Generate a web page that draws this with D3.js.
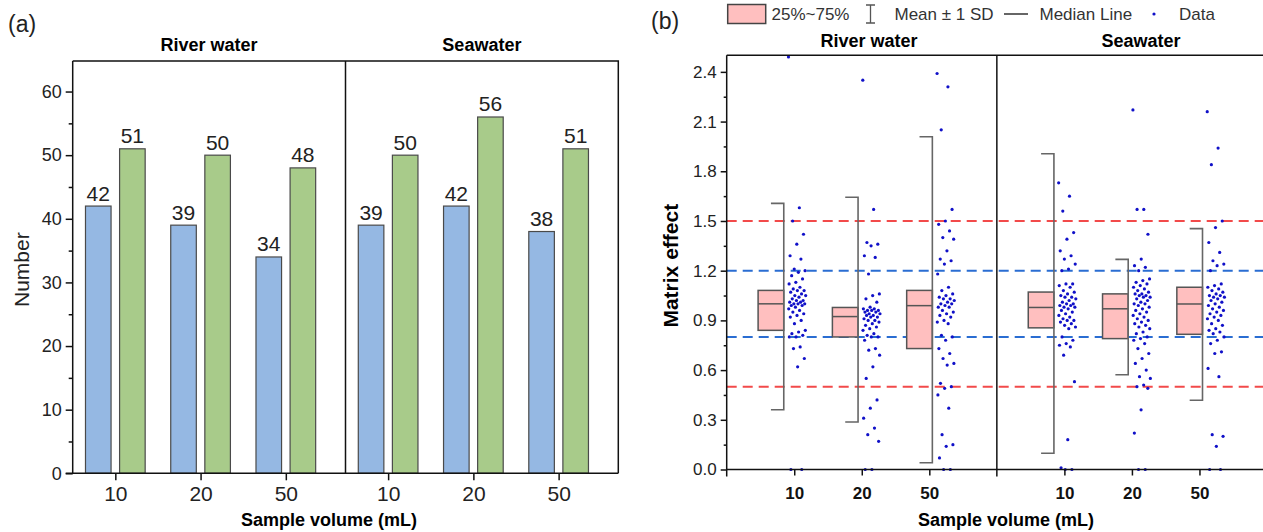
<!DOCTYPE html>
<html>
<head>
<meta charset="utf-8">
<script src="https://cdn.jsdelivr.net/npm/d3@7"></script>
<style>
  body { margin: 0; background: #fff; }
  text { font-family: "Liberation Sans", Arial, sans-serif; }
</style>
</head>
<body>
<svg id="fig" width="1263" height="532"></svg>
<script>
// ---- donnees ----
const volumes = ["10", "20", "50"];
const matrices = ["River water", "Seawater"];
// positions des categories sur l'axe (a) et (b)
const posA = [1, 2, 3, 4.2, 5.2, 6.2];
const posB = [1, 2, 3, 5, 6, 7];

// (a) nombres
const nbBleu = [42, 39, 34, 39, 42, 38];
const nbVert = [51, 50, 48, 50, 56, 51];

// (b) statistiques des boites
const q1 = [0.84, 0.80, 0.73, 0.855, 0.79, 0.816];
const mediane = [1.0, 0.923, 0.989, 0.978, 0.97, 0.999];
const q3 = [1.081, 0.978, 1.081, 1.071, 1.06, 1.10];
const moyPlusSD = [1.606, 1.643, 2.008, 1.906, 1.268, 1.454];
const moyMoinsSD = [0.361, 0.287, 0.041, 0.098, 0.572, 0.418];

// (b) points
const ptsRiv10 = [2.49, 1.58, 1.50, 1.42, 1.36, 1.29, 1.27, 1.21, 1.20, 1.19, 1.17, 1.15, 1.13, 1.12, 1.10, 1.09, 1.08, 1.08,
  1.07, 1.06, 1.05, 1.05, 1.04, 1.03, 1.02, 1.02, 1.01, 1.01, 1.00, 1.00, 1.00, 0.99, 0.99, 0.98, 0.97, 0.96, 0.95, 0.94,
  0.93, 0.92, 0.90, 0.88, 0.84, 0.83, 0.82, 0.81, 0.80, 0.80, 0.74, 0.73, 0.67, 0.62, 0.0, 0.0];
const ptsRiv20 = [2.35, 1.57, 1.37, 1.36, 1.35, 1.29, 1.28, 1.18, 1.06, 1.05, 1.03, 1.01, 0.98, 0.97, 0.97, 0.96, 0.96, 0.96,
  0.95, 0.95, 0.94, 0.94, 0.93, 0.93, 0.92, 0.92, 0.91, 0.90, 0.90, 0.89, 0.88, 0.87, 0.86, 0.85, 0.84, 0.82, 0.81, 0.80,
  0.80, 0.78, 0.73, 0.72, 0.69, 0.62, 0.55, 0.42, 0.37, 0.31, 0.25, 0.21, 0.17, 0.0, 0.0];
const ptsRiv50 = [2.39, 2.31, 2.05, 1.57, 1.50, 1.48, 1.44, 1.40, 1.39, 1.32, 1.27, 1.26, 1.24, 1.18, 1.10, 1.08, 1.06, 1.05,
  1.04, 1.03, 1.03, 1.02, 1.01, 1.00, 1.00, 0.99, 0.98, 0.98, 0.96, 0.95, 0.94, 0.93, 0.92, 0.90, 0.89, 0.88, 0.81, 0.80,
  0.78, 0.73, 0.70, 0.67, 0.64, 0.63, 0.52, 0.50, 0.49, 0.45, 0.37, 0.21, 0.15, 0.14, 0.07, 0.0, 0.0];
const ptsSea10 = [1.73, 1.65, 1.56, 1.43, 1.39, 1.32, 1.29, 1.27, 1.24, 1.21, 1.20, 1.12, 1.12, 1.11, 1.10, 1.08, 1.07, 1.06,
  1.05, 1.04, 1.04, 1.03, 1.02, 1.01, 1.00, 1.00, 0.99, 0.99, 0.98, 0.98, 0.97, 0.96, 0.95, 0.94, 0.93, 0.92, 0.91, 0.90,
  0.90, 0.89, 0.88, 0.87, 0.86, 0.85, 0.80, 0.78, 0.76, 0.75, 0.74, 0.69, 0.53, 0.18, 0.01, 0.0, 0.0];
const ptsSea20 = [2.17, 1.57, 1.57, 1.42, 1.27, 1.23, 1.22, 1.20, 1.15, 1.14, 1.13, 1.12, 1.11, 1.10, 1.09, 1.08, 1.07, 1.06,
  1.06, 1.05, 1.05, 1.04, 1.04, 1.03, 1.02, 1.01, 1.00, 1.00, 0.99, 0.98, 0.97, 0.96, 0.95, 0.94, 0.93, 0.92, 0.91, 0.90,
  0.89, 0.88, 0.87, 0.86, 0.85, 0.83, 0.82, 0.80, 0.79, 0.78, 0.76, 0.73, 0.70, 0.67, 0.64, 0.60, 0.56, 0.55, 0.51, 0.50,
  0.49, 0.36, 0.22, 0.0, 0.0];
const ptsSea50 = [2.16, 1.94, 1.84, 1.50, 1.46, 1.37, 1.31, 1.26, 1.24, 1.23, 1.20, 1.12, 1.11, 1.10, 1.09, 1.08, 1.07, 1.06,
  1.05, 1.05, 1.04, 1.04, 1.03, 1.02, 1.01, 1.00, 0.99, 0.98, 0.97, 0.96, 0.95, 0.94, 0.93, 0.92, 0.91, 0.90, 0.88, 0.87,
  0.85, 0.84, 0.83, 0.82, 0.80, 0.78, 0.76, 0.71, 0.70, 0.61, 0.56, 0.21, 0.20, 0.14, 0.0, 0.0];
const points = [ptsRiv10, ptsRiv20, ptsRiv50, ptsSea10, ptsSea20, ptsSea50];

// lignes de reference
const limitesRouges = [1.5, 0.5];
const limitesBleues = [1.2, 0.8];

const svg = d3.select("#fig");

// =========================== (a) ===========================
const xA = d3.scaleLinear().domain([0.5, 6.9]).range([72.7, 618.3]);
const yA = d3.scaleLinear().domain([0, 64.8]).range([473.3, 61]);
const gA = svg.append("g");

// barres
posA.forEach(function(p, i)
{
  gA.append("rect")
    .attr("x", xA(p - 0.35)).attr("width", xA(p - 0.05) - xA(p - 0.35))
    .attr("y", yA(nbBleu[i])).attr("height", yA(0) - yA(nbBleu[i]))
    .attr("fill", "#95b8e3").attr("stroke", "#4a4a4a").attr("stroke-width", 1.2);
  gA.append("rect")
    .attr("x", xA(p + 0.05)).attr("width", xA(p + 0.35) - xA(p + 0.05))
    .attr("y", yA(nbVert[i])).attr("height", yA(0) - yA(nbVert[i]))
    .attr("fill", "#a8cb8a").attr("stroke", "#4a4a4a").attr("stroke-width", 1.2);
  gA.append("text").attr("x", xA(p - 0.2)).attr("y", yA(nbBleu[i]) - 5.5)
    .attr("text-anchor", "middle").attr("font-size", 21).attr("fill", "#222").text(nbBleu[i]);
  gA.append("text").attr("x", xA(p + 0.2)).attr("y", yA(nbVert[i]) - 5.5)
    .attr("text-anchor", "middle").attr("font-size", 21).attr("fill", "#222").text(nbVert[i]);
});

// cadre
gA.append("path")
  .attr("d", "M" + xA(0.5) + "," + yA(64.8) + "H" + xA(6.9) + "V" + yA(0))
  .attr("fill", "none").attr("stroke", "#111").attr("stroke-width", 1.5);
gA.append("line").attr("x1", xA(3.7)).attr("x2", xA(3.7)).attr("y1", yA(64.8)).attr("y2", yA(0))
  .attr("stroke", "#111").attr("stroke-width", 1.5);

// axe y
const axeYA = gA.append("g").attr("transform", "translate(" + xA(0.5) + ",0)")
  .call(d3.axisLeft(yA).tickValues(d3.range(0, 61, 10)).tickSize(7).tickPadding(4));
gA.append("g").attr("transform", "translate(" + xA(0.5) + ",0)")
  .call(d3.axisLeft(yA).tickValues(d3.range(5, 61, 10)).tickSize(4).tickFormat(""))
  .select(".domain").remove();
axeYA.select(".domain").attr("d", "M0," + yA(0) + "V" + yA(64.8));
axeYA.selectAll("text").attr("font-size", 18).attr("fill", "#222");

// axe x
const axeXA = gA.append("g").attr("transform", "translate(0," + yA(0) + ")")
  .call(d3.axisBottom(xA).tickValues(posA).tickSize(7).tickPadding(6)
    .tickFormat(function(d, i) { return volumes[i % 3]; }));
axeXA.select(".domain").attr("d", "M" + (xA(0.5) - 7) + ",0H" + xA(6.9));
axeXA.selectAll("text").attr("font-size", 21).attr("fill", "#222");
svg.selectAll(".tick line, .domain").attr("stroke", "#111").attr("stroke-width", 1.5);

gA.append("text").attr("x", 8).attr("y", 32).attr("font-size", 23).attr("fill", "#222").text("(a)");
gA.append("text").attr("x", (xA(0.5) + xA(3.7)) / 2).attr("y", 51).attr("text-anchor", "middle")
  .attr("font-size", 18).attr("font-weight", "bold").text(matrices[0]);
gA.append("text").attr("x", (xA(3.7) + xA(6.9)) / 2).attr("y", 51).attr("text-anchor", "middle")
  .attr("font-size", 18).attr("font-weight", "bold").text(matrices[1]);
gA.append("text").attr("transform", "translate(29," + yA(32) + ") rotate(-90)")
  .attr("text-anchor", "middle").attr("font-size", 21).attr("fill", "#222").text("Number");
gA.append("text").attr("x", 329).attr("y", 526).attr("text-anchor", "middle")
  .attr("font-size", 18).attr("font-weight", "bold").text("Sample volume (mL)");

// =========================== (b) ===========================
const xB = d3.scaleLinear().domain([0, 8]).range([726.7, 1267]);
const yB = d3.scaleLinear().domain([0, 2.5]).range([469.5, 55.3]);
const gB = svg.append("g");
const decalBoite = [-0.345, -0.245, -0.145];
const demiBoite = 0.19;

// lignes pointillees
limitesRouges.forEach(function(v)
{
  gB.append("line").attr("x1", xB(0)).attr("x2", xB(8)).attr("y1", yB(v)).attr("y2", yB(v))
    .attr("stroke", "#f24a4a").attr("stroke-width", 2).attr("stroke-dasharray", "10,6");
});
limitesBleues.forEach(function(v)
{
  gB.append("line").attr("x1", xB(0)).attr("x2", xB(8)).attr("y1", yB(v)).attr("y2", yB(v))
    .attr("stroke", "#2a6dd2").attr("stroke-width", 2).attr("stroke-dasharray", "10,6");
});

// boites, moyenne +- SD, points
posB.forEach(function(p, i)
{
  let c = p + decalBoite[i % 3];
  gB.append("rect")
    .attr("x", xB(c - demiBoite)).attr("width", xB(c + demiBoite) - xB(c - demiBoite))
    .attr("y", yB(q3[i])).attr("height", yB(q1[i]) - yB(q3[i]))
    .attr("fill", "#ffbfbf").attr("stroke", "#555").attr("stroke-width", 1.5);
  gB.append("line").attr("x1", xB(c - demiBoite)).attr("x2", xB(c + demiBoite))
    .attr("y1", yB(mediane[i])).attr("y2", yB(mediane[i]))
    .attr("stroke", "#555").attr("stroke-width", 1.5);
  let xr = xB(c + demiBoite);
  gB.append("path")
    .attr("d", "M" + xB(c) + "," + yB(moyPlusSD[i]) + "H" + xr + "V" + yB(moyMoinsSD[i]) + "H" + xB(c))
    .attr("fill", "none").attr("stroke", "#666").attr("stroke-width", 1.6);
  let cp = c + demiBoite + 0.2;
  gB.selectAll(null).data(points[i]).enter().append("circle")
    .attr("cx", function(d, j) { return xB(cp + (((j * 0.618034) % 1) - 0.5) * 0.26); })
    .attr("cy", function(d) { return yB(d); })
    .attr("r", 1.6).attr("fill", "#1010c8");
});

// cadre (b)
gB.append("line").attr("x1", xB(0)).attr("x2", xB(8)).attr("y1", yB(2.5)).attr("y2", yB(2.5))
  .attr("stroke", "#111").attr("stroke-width", 1.5);
gB.append("line").attr("x1", xB(4)).attr("x2", xB(4)).attr("y1", yB(2.5)).attr("y2", yB(0) + 7)
  .attr("stroke", "#111").attr("stroke-width", 1.5);

const axeYB = gB.append("g").attr("transform", "translate(" + xB(0) + ",0)")
  .call(d3.axisLeft(yB).tickValues(d3.range(0, 2.41, 0.3)).tickSize(6).tickPadding(4).tickFormat(d3.format(".1f")));
gB.append("g").attr("transform", "translate(" + xB(0) + ",0)")
  .call(d3.axisLeft(yB).tickValues(d3.range(0.15, 2.5, 0.3)).tickSize(3).tickFormat(""))
  .select(".domain").remove();
axeYB.select(".domain").attr("d", "M0," + (yB(0) + 7) + "V" + yB(2.5));
axeYB.selectAll("text").attr("font-size", 17).attr("fill", "#222");

const axeXB = gB.append("g").attr("transform", "translate(0," + yB(0) + ")")
  .call(d3.axisBottom(xB).tickValues(posB).tickSize(6).tickPadding(11)
    .tickFormat(function(d, i) { return volumes[i % 3]; }));
axeXB.select(".domain").attr("d", "M" + xB(0) + ",0H" + xB(8));
axeXB.selectAll("text").attr("font-size", 17).attr("font-weight", "bold").attr("fill", "#111");
svg.selectAll(".tick line, .domain").attr("stroke", "#111").attr("stroke-width", 1.5);

gB.append("text").attr("x", 651).attr("y", 29).attr("font-size", 23).attr("fill", "#222").text("(b)");
gB.append("text").attr("x", 869).attr("y", 47).attr("text-anchor", "middle")
  .attr("font-size", 18).attr("font-weight", "bold").text(matrices[0]);
gB.append("text").attr("x", 1141).attr("y", 47).attr("text-anchor", "middle")
  .attr("font-size", 18).attr("font-weight", "bold").text(matrices[1]);
gB.append("text").attr("transform", "translate(678," + yB(1.23) + ") rotate(-90)")
  .attr("text-anchor", "middle").attr("font-size", 21).attr("font-weight", "bold").text("Matrix effect");
gB.append("text").attr("x", 1006).attr("y", 526).attr("text-anchor", "middle")
  .attr("font-size", 18).attr("font-weight", "bold").text("Sample volume (mL)");

// legende
const leg = gB.append("g").attr("font-size", 17).attr("fill", "#333");
leg.append("rect").attr("x", 727.7).attr("y", 4.5).attr("width", 38).attr("height", 19)
  .attr("fill", "#ffbfbf").attr("stroke", "#444").attr("stroke-width", 1.5);
leg.append("text").attr("x", 771.5).attr("y", 20).text("25%~75%");
leg.append("path").attr("d", "M866,5H875M870.5,5V23M866,23H875")
  .attr("fill", "none").attr("stroke", "#555").attr("stroke-width", 1.3);
leg.append("text").attr("x", 894.5).attr("y", 20).text("Mean \u00b1 1 SD");
leg.append("line").attr("x1", 1004).attr("x2", 1028).attr("y1", 14).attr("y2", 14)
  .attr("stroke", "#333").attr("stroke-width", 1.5);
leg.append("text").attr("x", 1039.5).attr("y", 20).text("Median Line");
leg.append("circle").attr("cx", 1154).attr("cy", 14).attr("r", 1.6).attr("fill", "#1010c8");
leg.append("text").attr("x", 1179).attr("y", 20).text("Data");
</script>
</body>
</html>
